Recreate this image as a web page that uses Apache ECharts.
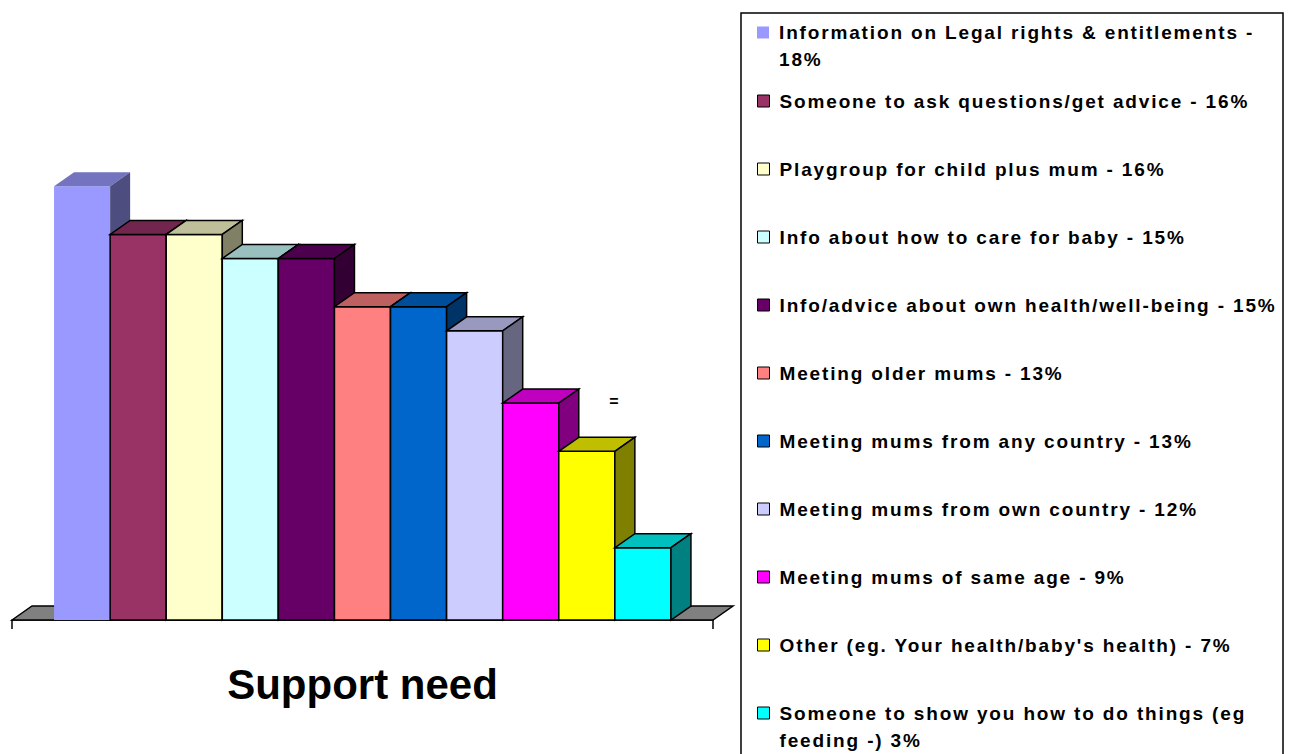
<!DOCTYPE html>
<html>
<head>
<meta charset="utf-8">
<script src="https://cdn.jsdelivr.net/npm/echarts@6/dist/echarts.min.js"></script>
<style>
  html, body { margin: 0; padding: 0; background: #fff; }
  #main { width: 1290px; height: 754px; }
  #main text[style*="19px"] { letter-spacing: 1.85px; }
</style>
</head>
<body>
<div id="main"></div>
<script>
// ---- data ----
const categories = [
  'Information on Legal rights & entitlements',
  'Someone to ask questions/get advice',
  'Playgroup for child plus mum',
  'Info about how to care for baby',
  'Info/advice about own health/well-being',
  'Meeting older mums',
  'Meeting mums from any country',
  'Meeting mums from own country',
  'Meeting mums of same age',
  "Other (eg. Your health/baby's health)",
  'Someone to show you how to do things (eg feeding -)'
];
const values = [18, 16, 16, 15, 15, 13, 13, 12, 9, 7, 3];
const legendLabels = [
  'Information on Legal rights & entitlements -\n18%',
  'Someone to ask questions/get advice - 16%',
  'Playgroup for child plus mum - 16%',
  'Info about how to care for baby - 15%',
  'Info/advice about own health/well-being - 15%',
  'Meeting older mums - 13%',
  'Meeting mums from any country - 13%',
  'Meeting mums from own country - 12%',
  'Meeting mums of same age - 9%',
  "Other (eg. Your health/baby's health) - 7%",
  'Someone to show you how to do things (eg\nfeeding -) 3%'
];
const colors = ['#9999FF', '#993366', '#FFFFCC', '#CCFFFF', '#660066', '#FF8080',
                '#0066CC', '#CCCCFF', '#FF00FF', '#FFFF00', '#00FFFF'];
const titleText = 'Support need';

// ---- style constants ----
const FONT = '"Liberation Sans", Arial, Helvetica, sans-serif';
const DEPTH_X = 20, DEPTH_Y = 14;
const X_MIN = -1.25, X_MAX = 11.25;

function shade(hex, f) {
  const n = parseInt(hex.slice(1), 16);
  const r = Math.round(((n >> 16) & 255) * f);
  const g = Math.round(((n >> 8) & 255) * f);
  const b = Math.round((n & 255) * f);
  return 'rgb(' + r + ',' + g + ',' + b + ')';
}

function renderBar(params, api) {
  const xv = api.value(0), v = api.value(1);
  const base = api.coord([xv, 0]);
  const top = api.coord([xv, v]);
  const w = api.size([1, 0])[0];
  const x0 = base[0] - w / 2, x1 = base[0] + w / 2;
  const yb = base[1], yt = top[1];
  const c = api.visual('color');
  const st = api.style();
  const lw = st.lineWidth || 0;
  const stroke = lw > 0 ? '#000' : null;
  const common = { stroke: stroke, lineWidth: lw, lineJoin: 'miter' };
  return {
    type: 'group',
    children: [
      { type: 'rect', shape: { x: x0, y: yt, width: w, height: yb - yt },
        style: Object.assign({ fill: c }, common) },
      { type: 'polygon', shape: { points: [[x0, yt], [x1, yt], [x1 + DEPTH_X, yt - DEPTH_Y], [x0 + DEPTH_X, yt - DEPTH_Y]] },
        style: Object.assign({ fill: shade(c, 0.75) }, common) },
      { type: 'polygon', shape: { points: [[x1, yt], [x1 + DEPTH_X, yt - DEPTH_Y], [x1 + DEPTH_X, yb - DEPTH_Y], [x1, yb]] },
        style: Object.assign({ fill: shade(c, 0.5) }, common) }
    ]
  };
}

function renderFloor(params, api) {
  const l = api.coord([X_MIN, 0]);
  const r = api.coord([X_MAX, 0]);
  const y = l[1];
  return {
    type: 'group',
    children: [
      { type: 'polygon', shape: { points: [[l[0], y], [l[0] + DEPTH_X, y - DEPTH_Y], [r[0] + DEPTH_X, y - DEPTH_Y], [r[0], y]] },
        style: { fill: '#808080', stroke: '#000', lineWidth: 1.5 } }
    ]
  };
}

const series = [{
  type: 'custom', name: '__floor', renderItem: renderFloor, data: [[0, 0]],
  silent: true, z: 1
}];
categories.forEach(function (cat, i) {
  series.push({
    type: 'custom',
    name: legendLabels[i],
    renderItem: renderBar,
    data: [[i, values[i]]],
    itemStyle: { color: colors[i], borderColor: '#000', borderWidth: i === 0 ? 0 : 1.5 },
    z: 2
  });
});

const legendText = { fontFamily: FONT, fontWeight: 'bold', fontSize: 19, lineHeight: 27, color: '#000', padding: [0, 0, 0, 5] };
// two-line entries: a leading empty line keeps the marker beside the first line
const firstLineFormatter = function (name) { return '\n' + name; };

const option = {
  animation: false,
  backgroundColor: '#fff',
  title: {
    text: titleText, left: 362.5, top: 663, textAlign: 'center', padding: 0,
    textStyle: { fontFamily: FONT, fontWeight: 'bold', fontSize: 42, lineHeight: 42, color: '#000' }
  },
  grid: { left: 12, right: 577, top: 138, bottom: 134 },
  xAxis: {
    type: 'value', min: X_MIN, max: X_MAX,
    axisLine: { show: true, lineStyle: { color: '#000', width: 1.5 } },
    axisTick: { show: true, length: 9, inside: false, customValues: [X_MIN, X_MAX], lineStyle: { color: '#000', width: 1.5 } },
    axisLabel: { show: false },
    splitLine: { show: false }
  },
  yAxis: {
    type: 'value', min: 0, max: 20,
    axisLine: { show: false }, axisTick: { show: false }, axisLabel: { show: false }, splitLine: { show: false }
  },
  legend: [
    {
      data: [legendLabels[0]], orient: 'vertical', left: 757, top: -8, padding: 0,
      itemWidth: 12, itemHeight: 12, icon: 'rect', selectedMode: false,
      formatter: firstLineFormatter,
      textStyle: legendText
    },
    {
      data: legendLabels.slice(1, 10), orient: 'vertical', left: 757, top: 87.5, padding: 0,
      itemGap: 41, itemWidth: 12, itemHeight: 12, icon: 'rect', selectedMode: false,
      itemStyle: { borderColor: '#000', borderWidth: 1 },
      textStyle: legendText
    },
    {
      data: [legendLabels[10]], orient: 'vertical', left: 757, top: 672.5, padding: 0,
      itemWidth: 12, itemHeight: 12, icon: 'rect', selectedMode: false,
      itemStyle: { borderColor: '#000', borderWidth: 1 },
      formatter: firstLineFormatter,
      textStyle: legendText
    }
  ],
  graphic: [
    { type: 'rect', shape: { x: 741, y: 13, width: 542, height: 760 },
      style: { fill: 'none', stroke: '#000', lineWidth: 1.5 }, silent: true },
    { type: 'text', x: 614, y: 401,
      style: { text: '=', font: 'bold 16px ' + FONT, align: 'center', verticalAlign: 'middle', fill: '#000' } }
  ],
  series: series
};

const chart = echarts.init(document.getElementById('main'), null, { renderer: 'svg' });
chart.setOption(option);
</script>
</body>
</html>
